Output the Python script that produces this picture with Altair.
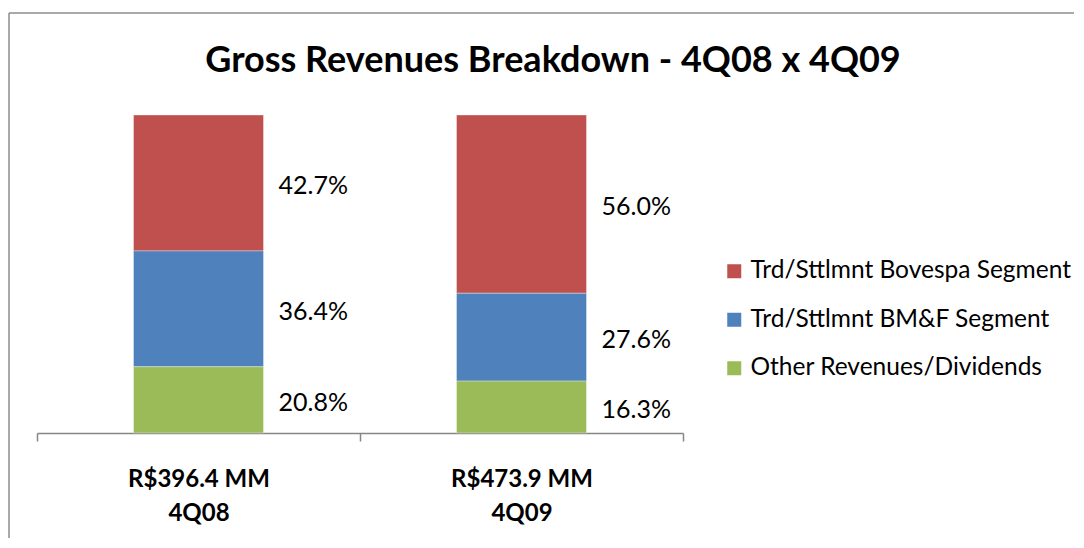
import altair as alt
import pandas as pd

categories = ["R$396.4 MM|4Q08", "R$473.9 MM|4Q09"]
series = ["Trd/Sttlmnt Bovespa Segment", "Trd/Sttlmnt BM&F Segment", "Other Revenues/Dividends"]
bovespa = [42.7, 56.0]
bmf = [36.4, 27.6]
other = [20.8, 16.3]
colors = ["#C0504D", "#4F81BD", "#9BBB59"]

rows = []
for i, c in enumerate(categories):
    for s, vals, order in [(series[0], bovespa, 2), (series[1], bmf, 1), (series[2], other, 0)]:
        rows.append({"cat": c, "series": s, "value": vals[i], "ord": order})
df = pd.DataFrame(rows)

W, H = 1066, 530
FONT = "Lato"

base = alt.Chart(df).transform_stack(
    stack="value", as_=["y0", "y1"], groupby=["cat"],
    sort=[alt.SortField("ord", order="ascending")], offset="normalize"
).transform_calculate(
    mid="(datum.y0 + datum.y1) / 2",
    lab="format(datum.value, '.1f') + '%'"
)

xenc = alt.X("cat:N", sort=categories, title=None,
             scale=alt.Scale(range=[29, 675], paddingInner=0, paddingOuter=0),
             axis=alt.Axis(labelExpr="split(datum.label, '|')", labelAngle=0,
                           labelFont=FONT, labelFontWeight="bold", labelFontSize=24,
                           labelColor="#000000", labelLineHeight=34, labelPadding=26,
                           domainColor="#868686", domainWidth=1.5, tickColor="#868686",
                           tickWidth=1.5, tickSize=8, tickBand="extent", offset=-105,
                           grid=False))
yscale = alt.Scale(domain=[0, 1], range=[425, 107], nice=False, zero=True)

bars = base.mark_bar(width=130, stroke="#ffffff", strokeWidth=0.6, strokeOpacity=0.6).encode(
    x=xenc,
    y=alt.Y("y0:Q", scale=yscale, axis=None),
    y2="y1:Q",
    color=alt.Color("series:N", scale=alt.Scale(domain=series, range=colors),
                    legend=alt.Legend(title=None, orient="none", legendX=714, legendY=251,
                                      symbolType="square", symbolSize=196, symbolStrokeWidth=0,
                                      labelFont=FONT, labelFontSize=24.5, labelColor="#000000",
                                      labelLimit=0, rowPadding=23.5, labelOffset=4, padding=0)),
)

texts = base.mark_text(align="left", baseline="middle", dx=80, dy=3,
                       font=FONT, fontSize=25, color="#000000").encode(
    x=alt.X("cat:N", sort=categories),
    y=alt.Y("mid:Q", scale=yscale),
    text="lab:N",
)

frame_df = pd.DataFrame({"a": [0]})
left_line = alt.Chart(frame_df).mark_rule(color="#8c8c8c", strokeWidth=1.5).encode(
    x=alt.value(1), y=alt.value(5), y2=alt.value(H))
top_line = alt.Chart(frame_df).mark_rule(color="#8c8c8c", strokeWidth=1.5).encode(
    x=alt.value(1), x2=alt.value(W), y=alt.value(5))

chart = alt.layer(left_line, top_line, bars, texts).properties(
    width=W, height=H, padding=0,
    title=alt.Title("Gross Revenues Breakdown - 4Q08 x 4Q09", font=FONT, fontSize=36,
                    fontWeight="bold", color="#000000", anchor="middle", frame="group",
                    baseline="alphabetic", offset=-64, dx=12, dy=36)
).configure(font=FONT, view=alt.ViewConfig(stroke=None))

chart.save("out.html", embed_options={"renderer": "svg", "actions": False})
